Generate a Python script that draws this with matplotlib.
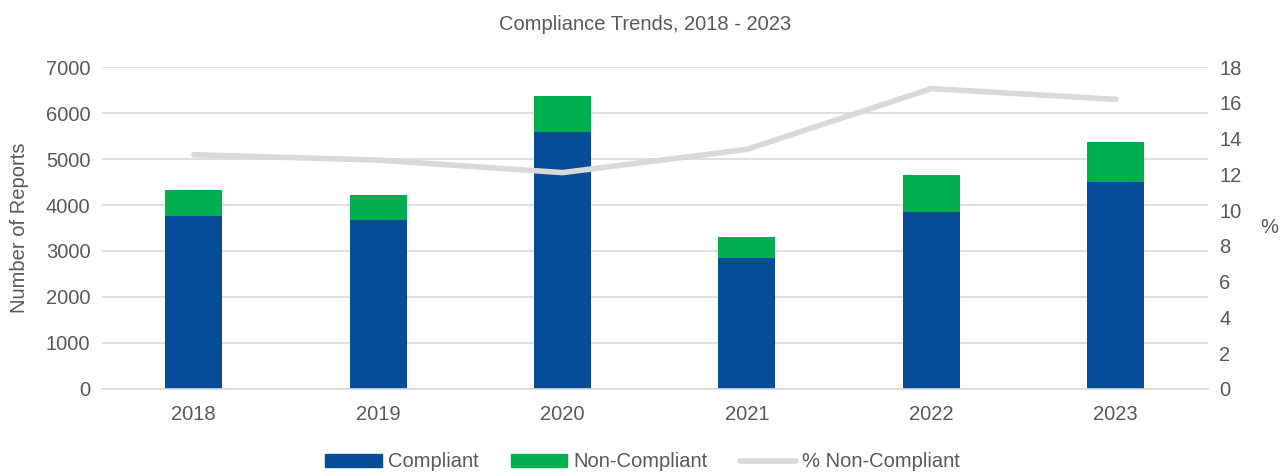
import numpy as np
import matplotlib
matplotlib.use("Agg")
import matplotlib.pyplot as plt
from matplotlib.lines import Line2D
from matplotlib.patches import Patch

# --- DATA ---
years = ["2018", "2019", "2020", "2021", "2022", "2023"]
compliant = [3754, 3667, 5594, 2855, 3855, 4507]
non_compliant = [572, 544, 776, 449, 790, 863]
pct_non_compliant = [13.1, 12.8, 12.1, 13.4, 16.8, 16.2]

BLUE = "#054D98"
GREEN = "#00B050"
LINE_GREY = "#D9D9D9"
TEXT = "#595959"

plt.rcParams['font.family'] = ['Liberation Sans', 'DejaVu Sans']

fig = plt.figure(figsize=(12.85, 4.73), dpi=100)
ax1 = fig.add_axes([0.079, 0.178, 0.861, 0.680])
ax2 = ax1.twinx()

x = np.arange(len(years))
ax1.bar(x, compliant, width=0.31, color=BLUE, zorder=2)
ax1.bar(x, non_compliant, width=0.31, bottom=compliant, color=GREEN, zorder=2)
ax2.plot(x, pct_non_compliant, color=LINE_GREY, linewidth=4, solid_capstyle='round', zorder=3)

ax1.set_xlim(-0.5, len(years) - 0.5)
ax1.set_ylim(0, 7000)
ax1.set_yticks(range(0, 7001, 1000))
ax2.set_ylim(0, 18)
ax2.set_yticks(range(0, 19, 2))
ax1.set_xticks(x)
ax1.set_xticklabels(years)

ax1.grid(axis='y', color=LINE_GREY, linewidth=1.2, zorder=0)
ax1.set_axisbelow(True)
for ax in (ax1, ax2):
    for s in ax.spines.values():
        s.set_visible(False)
    ax.tick_params(length=0, labelsize=14.5, colors=TEXT, pad=8)
ax1.spines['bottom'].set_visible(True)
ax1.spines['bottom'].set_color(LINE_GREY)
ax1.spines['bottom'].set_linewidth(1.2)
ax1.tick_params(axis='x', pad=12)

ax1.set_ylabel("Number of Reports", fontsize=14.5, color=TEXT, labelpad=12)
ax2.set_ylabel("%", fontsize=14.5, color=TEXT, rotation=0, labelpad=20, va='center')

fig.suptitle("Compliance Trends, 2018 - 2023", x=0.502, y=0.968, fontsize=14.5, color=TEXT)

handles = [Patch(color=BLUE), Patch(color=GREEN),
           Line2D([], [], color=LINE_GREY, linewidth=4, solid_capstyle='round')]
labels = ["Compliant", "Non-Compliant", "% Non-Compliant"]
fig.legend(handles, labels, loc='lower center', bbox_to_anchor=(0.5, -0.035), ncol=3,
           frameon=False, fontsize=14.5, labelcolor=TEXT, handlelength=2.8,
           handleheight=0.6, handletextpad=0.3, columnspacing=1.6)

fig.savefig("out.png", dpi=100)
